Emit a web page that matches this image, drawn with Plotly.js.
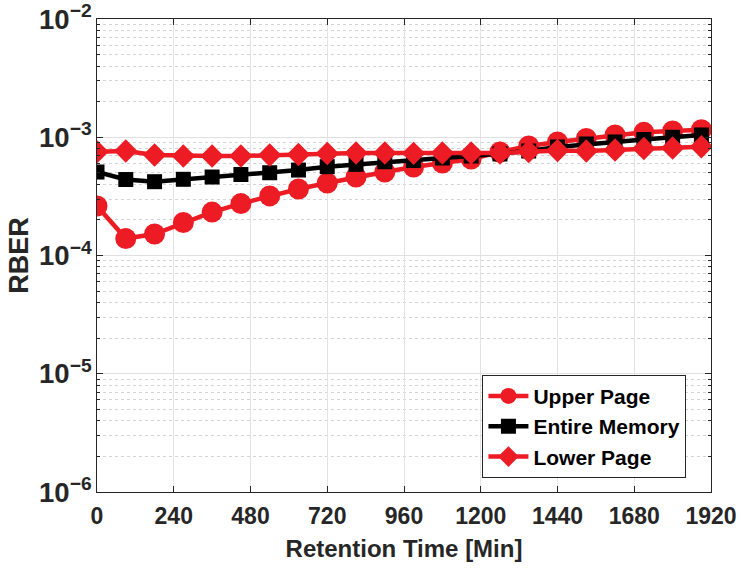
<!DOCTYPE html>
<html><head><meta charset="utf-8">
<script src="https://cdn.plot.ly/plotly-3.0.1.min.js"></script>
<style>body{margin:0;background:#fff}#chart{width:741px;height:571px}</style>
</head><body><div id="chart"></div>
<script>
const retentionMin = [0,90,180,270,360,450,540,630,720,810,900,990,1080,1170,1260,1350,1440,1530,1620,1710,1800,1890];
const upperPage = [2.62e-4,1.39e-4,1.52e-4,1.90e-4,2.33e-4,2.75e-4,3.19e-4,3.65e-4,4.10e-4,4.61e-4,5.08e-4,5.60e-4,6.06e-4,6.55e-4,7.51e-4,8.43e-4,9.12e-4,9.76e-4,1.045e-3,1.100e-3,1.130e-3,1.160e-3];
const entireMemory = [5.08e-4,4.39e-4,4.21e-4,4.41e-4,4.61e-4,4.84e-4,5.01e-4,5.28e-4,5.64e-4,5.90e-4,6.21e-4,6.36e-4,6.68e-4,6.94e-4,7.22e-4,7.65e-4,8.27e-4,8.77e-4,9.12e-4,9.57e-4,9.99e-4,1.045e-3];
const lowerPage = [7.55e-4,7.65e-4,7.08e-4,6.94e-4,6.94e-4,6.94e-4,7.08e-4,7.15e-4,7.29e-4,7.36e-4,7.36e-4,7.31e-4,7.36e-4,7.36e-4,7.36e-4,7.58e-4,7.73e-4,7.65e-4,7.80e-4,8.03e-4,8.11e-4,8.32e-4];
const xTicks = [0,240,480,720,960,1200,1440,1680,1920];
const seriesNames = ['Upper Page','Entire Memory','Lower Page'];

const red = '#ED1C24';
const FF = 'Liberation Sans, Arial, sans-serif';
const traces = [
  {x: retentionMin, y: upperPage, name: seriesNames[0], mode: 'lines+markers',
   line: {color: red, width: 4.5}, marker: {symbol: 'circle', size: 21, color: red}},
  {x: retentionMin, y: entireMemory, name: seriesNames[1], mode: 'lines+markers',
   line: {color: '#000', width: 4.5}, marker: {symbol: 'square', size: 15, color: '#000'}},
  {x: retentionMin, y: lowerPage, name: seriesNames[2], mode: 'lines+markers',
   line: {color: red, width: 4.5}, marker: {symbol: 'diamond', size: 18, color: red}}
];
const layout = {
  width: 741, height: 571,
  margin: {l: 96.5, r: 30, t: 19, b: 79},
  paper_bgcolor: '#fff', plot_bgcolor: '#fff',
  font: {family: FF, color: '#262626'},
  showlegend: true,
  legend: {x: 0.96, xanchor: 'right', y: 0.03, yanchor: 'bottom',
    bgcolor: '#fff', bordercolor: '#262626', borderwidth: 1,
    font: {family: FF, size: 21, color: '#000', weight: 'bold'},
    tracegroupgap: 0, itemwidth: 40},
  xaxis: {
    range: [0, 1920], tickvals: xTicks, ticktext: xTicks.map(String),
    ticks: 'inside', ticklen: 6, tickcolor: '#262626', tickwidth: 1,
    showline: true, linecolor: '#262626', linewidth: 1, mirror: 'ticks',
    showgrid: true, gridcolor: '#e3e3e3', gridwidth: 1, zeroline: false,
    ticklabelstandoff: 3,
    tickfont: {family: FF, size: 23, color: '#262626', weight: 'bold'},
    title: {text: 'Retention Time [Min]', standoff: 12,
      font: {family: FF, size: 24, color: '#262626', weight: 'bold'}}
  },
  yaxis: {
    type: 'log', range: [-6, -2], dtick: 1, exponentformat: 'power',
    ticks: 'inside', ticklen: 6, tickcolor: '#262626', tickwidth: 1,
    showline: true, linecolor: '#262626', linewidth: 1, mirror: 'ticks',
    showgrid: true, gridcolor: '#e0e0e0', gridwidth: 1, zeroline: false,
    ticklabeloverflow: 'allow',
    minor: {dtick: 'D1', ticks: 'inside', ticklen: 3, tickcolor: '#262626', showgrid: true,
      gridcolor: '#d4d4d4', griddash: 'dot', gridwidth: 1},
    tickfont: {family: FF, size: 22, color: '#262626', weight: 'bold'},
    title: {text: 'RBER', standoff: 2,
      font: {family: FF, size: 27, color: '#262626', weight: 'bold'}}
  }
};
Plotly.newPlot('chart', traces, layout, {displayModeBar: false, staticPlot: true});
</script>
</body></html>
